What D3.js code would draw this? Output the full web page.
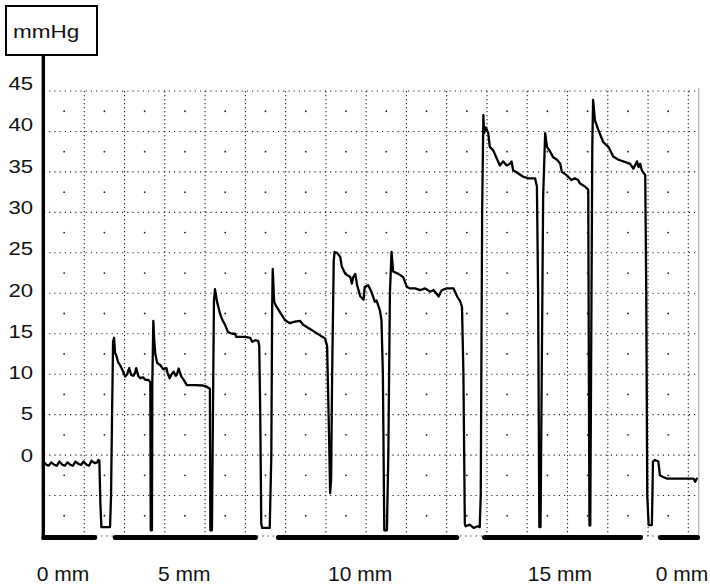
<!DOCTYPE html>
<html><head><meta charset="utf-8">
<script src="https://cdn.jsdelivr.net/npm/d3@7"></script>
<style>
body{margin:0;background:#fff}
svg{display:block}
text{font-family:"Liberation Sans",Arial,Helvetica,sans-serif;fill:#111}
</style>
</head><body>
<svg id="chart" width="710" height="584"></svg>
<script>
// ---- data ----
const yTickValues = [0, 5, 10, 15, 20, 25, 30, 35, 40, 45];
const yTickLabels = ["0", "5", "10", "15", "20", "25", "30", "35", "40", "45"];
const gridTimes = [10, 20, 30, 40, 50, 60, 70, 80, 90, 100, 110, 120, 130, 140, 150, 160];
const gridPressures = [-10, -5, 0, 5, 10, 15, 20, 25, 30, 35, 40, 45];
const cellTimes = [5, 15, 25, 35, 45, 55, 65, 75, 85, 95, 105, 115, 125, 135, 145, 155];
const cellPressures = [-7.5, -2.5, 2.5, 7.5, 12.5, 17.5, 22.5, 27.5, 32.5, 37.5, 42.5];
const stageLabels = ["0 mm", "5 mm", "10 mm", "15 mm", "0 mm"];
const stageLabelTimes = [4.7, 34.8, 78.5, 128.1, 158.4];
const stageBars = [[0, 12.6], [17.7, 52.5], [58.2, 102.5], [109.4, 148.1], [153.1, 162.3]];
const unitLabel = "mmHg";

// pressure trace [time, mmHg], by stage
const traceStage0a = [[0,-0.9],[0.6,-1.2],[1.2,-1.3],[1.8,-0.9],[2.6,-1.2],[3.2,-1.3],[3.8,-0.8],[4.6,-1.2],[5.2,-1.3],[5.8,-0.9],[6.6,-1.2],[7.2,-1.3],[7.8,-0.8],[8.6,-1.1],[9.2,-1.2],[9.8,-0.8],[10.6,-1.2],[11.2,-1.3],[11.8,-0.7],[12.6,-1.0],[13.2,-0.9],[13.5,-0.6],[13.75,-0.7],[14,-6],[14.25,-8.9],[16.4,-8.9],[16.65,-5]];
const traceStage5 = [[16.9,5],[17.15,14.0],[17.4,14.5],[17.65,12.6],[17.9,12.4],[18.4,11.5],[18.9,11.1],[19.4,10.6],[20.15,9.7],[20.65,10.0],[21.15,10.75],[21.65,9.9],[22.15,9.8],[22.65,10.2],[22.9,10.75],[23.4,9.8],[23.9,9.5],[24.65,9.6],[25.15,9.3],[25.9,9.3],[26.4,9.0],[26.5,-9.3],[26.8,-9.3],[26.9,9],[27.15,16.6],[27.4,14],[27.65,12.5],[28.1,11.4],[28.9,11.1],[29.65,10.6],[30.4,10.75],[30.7,10.1],[31.2,9.5],[31.7,10.0],[32.2,10.3],[32.7,9.8],[32.95,9.9],[33.45,10.7],[34.1,9.7],[34.7,9.3],[35.45,8.65],[37.45,8.65],[39.45,8.6],[40.2,8.5],[41.2,8.2],[41.3,-9.3],[41.7,-9.3],[41.95,5],[42.2,19],[42.45,20.5],[42.95,19.0],[43.7,17.5],[44.2,16.8],[44.95,16.1],[45.7,15.2],[46.7,15.0],[47.45,15.0],[47.7,14.6],[49.95,14.6],[51.2,14.5],[51.7,14.0],[52.45,14.2],[53.2,14.1],[53.45,13.5],[53.7,5],[53.95,-8.5],[54.2,-9.0],[56.05,-9.0],[56.45,0]];
const traceStage10 = [[56.65,18],[56.8,23.0],[57.15,18.95],[57.55,18.5],[58.55,17.7],[59.8,16.7],[61.05,16.3],[62.3,16.5],[63.55,16.6],[64.35,16.1],[65.65,15.7],[67.3,15.2],[68.55,14.8],[69.8,14.4],[70.3,13.5],[70.8,2],[71.05,-4.7],[71.3,-3],[71.55,10],[71.95,24],[72.15,25.1],[72.8,25.0],[73.55,24.5],[73.95,23.3],[74.8,22.4],[76.05,22.0],[76.45,21.2],[76.8,22.0],[77.3,22.4],[77.75,21.0],[78.55,19.6],[79.35,19.2],[79.65,20.8],[80.5,21.0],[81.3,20.2],[82.15,18.95],[82.6,19.1],[83.4,17.9],[83.8,16.7],[84.15,10],[84.5,-9.3],[85.15,-9.3],[85.5,0],[85.9,20],[86.3,25.1],[86.7,22.7],[88.0,22.4],[89.2,22.0],[90.1,20.8],[90.9,20.6],[92.15,20.6],[93.4,20.4],[94.65,20.6],[95.9,20.2],[96.7,20.4],[97.4,20.0],[98.0,19.6],[98.8,20.4],[100.1,20.6],[101.7,20.6],[102.6,19.6],[103.4,18.95],[103.8,18.3],[104.15,10],[104.5,-8.5],[104.7,-8.8],[105.7,-8.6],[106.7,-9.0],[107.7,-8.8],[108.2,-8.9],[108.45,-5]];
const traceStage15 = [[108.8,30],[109.1,42],[109.3,39.8],[109.7,40.5],[110.3,39.8],[110.7,38.1],[111.5,37.7],[112.4,36.7],[113.2,35.8],[114.0,36.3],[114.9,35.8],[115.7,36.0],[116.1,36.3],[116.5,35.2],[117.8,34.8],[119.0,34.4],[120.3,34.2],[121.95,34.2],[122.4,33.2],[122.7,20],[123.0,-8.9],[123.3,-8.9],[123.6,10],[123.95,32],[124.45,39.8],[124.9,38.1],[125.7,37.5],[126.45,36.8],[127.4,36.5],[128.2,36.0],[128.6,35.0],[129.75,34.6],[130.95,34.0],[131.8,34.2],[132.65,34.0],[133.05,33.6],[134.3,33.2],[135.15,32.8],[135.3,10],[135.45,-8.7],[135.65,-8.7],[135.85,10],[136.15,38],[136.35,43.9],[136.8,41.4],[137.65,40.2],[138.85,38.7],[140.15,38.1],[141.35,36.9],[142.65,36.5],[143.85,36.3],[145.55,36.0],[146.35,35.4],[147.25,36.3],[147.65,35.6],[148.05,36.0],[148.45,35.2],[149.3,34.6],[149.55,20],[149.8,-5],[150.15,-8.65],[150.95,-8.65],[151.15,-3]];
const traceStage0b = [[151.2,-0.8],[151.7,-0.6],[152.55,-0.8],[152.95,-2.5],[153.7,-2.7],[154.65,-2.9],[156.7,-2.9],[160.05,-2.9],[161.25,-2.9],[161.7,-3.3],[162.2,-2.8]];

// ---- drawing ----
const svg = d3.select("#chart");
const x = d3.scaleLinear().domain([0, 162.6]).range([44, 698.8]);
const y = d3.scaleLinear().domain([-10, 45]).range([536, 91]);
const yLabel = d3.scaleLinear().domain([0, 45]).range([461.7, 90]);

// grid
const grid = svg.append("g");
grid.selectAll("line.h").data(gridPressures).join("line")
  .attr("x1", x(0)).attr("x2", x(162.6))
  .attr("y1", d => y(d)).attr("y2", d => y(d))
  .attr("stroke", "#222").attr("stroke-width", 1.1)
  .attr("stroke-dasharray", "1.2,4");
grid.selectAll("line.v").data(gridTimes).join("line")
  .attr("x1", d => x(d)).attr("x2", d => x(d))
  .attr("y1", y(45)).attr("y2", y(-10))
  .attr("stroke", "#222").attr("stroke-width", 1.1)
  .attr("stroke-dasharray", "1.2,2.8");
const cells = [];
cellTimes.forEach(t => cellPressures.forEach(p => cells.push([t, p])));
grid.selectAll("circle").data(cells).join("circle")
  .attr("cx", d => x(d[0])).attr("cy", d => y(d[1])).attr("r", 0.9)
  .attr("fill", "#222");

// right border
svg.append("line").attr("x1", x(162.6)).attr("x2", x(162.6))
  .attr("y1", y(45) - 3).attr("y2", y(-10))
  .attr("stroke", "#999").attr("stroke-width", 1);

// trace
const trace = [].concat(traceStage0a, traceStage5, traceStage10, traceStage15, traceStage0b);
svg.append("path").datum(trace)
  .attr("d", d3.line().x(d => x(d[0])).y(d => y(d[1])))
  .attr("fill", "none").attr("stroke", "#000")
  .attr("stroke-width", 2.3).attr("stroke-linejoin", "round");

// stage bars
svg.selectAll("line.stage").data(stageBars).join("line")
  .attr("x1", d => x(d[0])).attr("x2", d => x(d[1]))
  .attr("y1", y(-10) + 1.5).attr("y2", y(-10) + 1.5)
  .attr("stroke", "#000").attr("stroke-width", 5).attr("stroke-linecap", "round");

// y axis (thick line)
svg.append("line").attr("x1", 43.3).attr("x2", 43.3)
  .attr("y1", 55).attr("y2", 540)
  .attr("stroke", "#000").attr("stroke-width", 3.4);

// y tick labels via axis on label scale
const ax = svg.append("g").attr("transform", "translate(33,0)")
  .call(d3.axisLeft(yLabel).tickValues(yTickValues).tickSize(0).tickPadding(0)
    .tickFormat((d, i) => yTickLabels[i]));
ax.select(".domain").remove();
ax.selectAll("text")
  .attr("font-size", 18).attr("font-family", "Liberation Sans, Arial, sans-serif")
  .attr("fill", "#111").attr("dy", 0).attr("text-anchor", "end")
  .attr("transform", "scale(1.23,1)")
  .attr("x", 0);
ax.selectAll(".tick").each(function(d) {
  d3.select(this).attr("transform", `translate(0,${yLabel(d)})`);
});

// unit box
svg.append("rect").attr("x", 6).attr("y", 6).attr("width", 91).attr("height", 49)
  .attr("fill", "#fff").attr("stroke", "#000").attr("stroke-width", 2);
svg.append("text").attr("transform", "translate(13,38) scale(1.25,1)")
  .attr("font-size", 18).text(unitLabel);

// stage labels
svg.selectAll("text.stage").data(stageLabels).join("text")
  .attr("class", "stage")
  .attr("x", (d, i) => x(stageLabelTimes[i])).attr("y", 580.5)
  .attr("text-anchor", "middle").attr("font-size", 21)
  .text(d => d);
</script>
</body></html>
